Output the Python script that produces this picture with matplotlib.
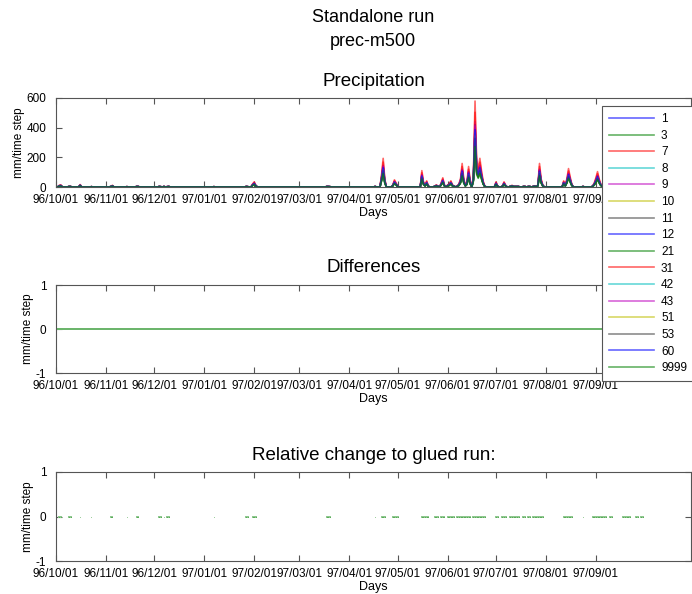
import datetime
import matplotlib
matplotlib.use('Agg')
import matplotlib.pyplot as plt
import numpy as np

# station ids shown in the legend
stations = ['1', '3', '7', '8', '9', '10', '11', '12', '21', '31', '42', '43', '51', '53', '60', '9999']
# relative size of each station's precipitation compared to the base series
station_scale = [0.95, 0.80, 1.38, 0.85, 1.05, 0.90, 0.75, 1.00, 0.70, 1.20, 0.88, 0.98, 0.82, 0.78, 0.92, 0.65]

start_date = datetime.date(1996, 10, 1)
n_days = 395
# wet days (index from 96/10/01) and base precipitation [mm/time step]
wet_days = [2, 3, 8, 9, 15, 22, 34, 35, 44, 50, 51, 64, 65, 67, 69, 70, 98,
            118, 119, 122, 123, 124, 168, 169, 170,
            198, 202, 203, 204, 209, 210, 211, 212,
            227, 228, 229, 230, 231, 235, 236, 237, 239, 240, 241,
            243, 244, 245, 246, 247, 249, 250, 251, 252, 253, 254, 255, 256, 257,
            259, 260, 261, 262, 263, 264, 265, 266,
            273, 274, 277, 278, 279, 282, 283, 284, 285, 286, 287, 290, 291,
            293, 294, 296, 297, 298, 299, 300, 301, 302,
            315, 316, 317, 318, 319, 320, 327,
            333, 334, 335, 336, 337, 338, 339, 340, 341, 344, 345,
            352, 353, 354, 355, 356, 360, 361, 363, 364, 394]
base_prec = [8, 10, 3, 3, 12, 2, 3, 8, 2, 3, 3, 3, 2, 3, 2, 3, 2,
             3, 2, 15, 25, 8, 3, 3, 2,
             3, 60, 140, 40, 10, 35, 20, 3,
             80, 25, 10, 30, 5, 5, 10, 5, 20, 45, 10,
             10, 15, 30, 10, 5, 5, 15, 40, 115, 40, 10, 25, 100, 30,
             60, 420, 130, 90, 140, 80, 30, 5,
             25, 5, 5, 25, 8, 5, 8, 3, 3, 3, 3, 3, 3,
             3, 3, 3, 5, 3, 10, 115, 40, 10,
             30, 10, 40, 90, 50, 15, 3,
             5, 20, 45, 75, 40, 15, 5, 8, 3, 3, 3,
             5, 15, 10, 5, 3, 5, 3, 3, 3, 3]

month_ticks = ['96/10/01', '96/11/01', '96/12/01', '97/01/01', '97/02/01', '97/03/01',
               '97/04/01', '97/05/01', '97/06/01', '97/07/01', '97/08/01', '97/09/01']

# MATLAB default colour order
color_order = [(0, 0, 1), (0, 0.5, 0), (1, 0, 0), (0, 0.75, 0.75),
               (0.75, 0, 0.75), (0.75, 0.75, 0), (0.25, 0.25, 0.25)]

days = np.array([start_date + datetime.timedelta(days=i) for i in range(n_days)])
base = np.zeros(n_days)
base[wet_days] = base_prec

plt.rcParams['font.family'] = ['Liberation Sans', 'DejaVu Sans']
plt.rcParams['axes.unicode_minus'] = False
fig = plt.figure(figsize=(6.92, 5.94), dpi=100)
left, width = 56 / 692., 635 / 692.
ax_prec = fig.add_axes([left, 1 - 187 / 594., width, 89 / 594.])
ax_diff = fig.add_axes([left, 1 - 373 / 594., width, 88 / 594.])
ax_rel = fig.add_axes([left, 1 - 561 / 594., width, 89 / 594.])

fig.text(373 / 692., 1 - 18 / 594., 'Standalone run', ha='center', va='center', fontsize=13)
fig.text(373 / 692., 1 - 41 / 594., 'prec-m500', ha='center', va='center', fontsize=13)

lines = []
n_st = len(stations)
for i, st in enumerate(stations):
    col = color_order[i % len(color_order)]
    prec = base * station_scale[i]
    l, = ax_prec.plot(days, prec, color=col, linewidth=1.2, alpha=0.6, label=st)
    lines.append(l)
    diff = np.zeros(n_days)
    rel = np.where(prec > 0, diff / np.where(prec > 0, prec, 1), np.nan)
    # every station overlaps at zero, only the last one drawn stays visible
    if i == n_st - 1:
        ax_diff.plot(days, diff, color=col, linewidth=1.1, alpha=0.75)
        ax_rel.plot(days, rel, color=col, linewidth=1.4, alpha=0.45,
                    marker='.', markersize=1.5, markeredgewidth=0)
    else:
        ax_diff.plot(days, diff, color='white', linewidth=1.1)
        ax_rel.plot(days, rel, color='white', linewidth=1.4)

ax_prec.set_ylim(0, 600)
ax_prec.set_yticks([0, 200, 400, 600])
ax_prec.set_title('Precipitation', fontsize=13.5, pad=9)
ax_diff.set_ylim(-1, 1)
ax_diff.set_yticks([-1, 0, 1])
ax_diff.set_title('Differences', fontsize=13.5, pad=9)
ax_rel.set_ylim(-1, 1)
ax_rel.set_yticks([-1, 0, 1])
ax_rel.set_title('Relative change to glued run:', fontsize=13.5, pad=9)

tick_dates = [datetime.datetime.strptime(t, '%y/%m/%d') for t in month_ticks]
for ax in [ax_prec, ax_diff, ax_rel]:
    ax.set_xlim(days[0], days[0] + datetime.timedelta(days=394))
    ax.set_xticks(tick_dates)
    ax.set_xticklabels(month_ticks)
    ax.set_xlabel('Days', fontsize=9, labelpad=1)
    ax.set_ylabel('mm/time step', fontsize=8.5, labelpad=1)
    ax.tick_params(direction='in', length=4, width=0.8, top=True, right=True,
                   labelsize=8.5, color='#555555')
    ax.tick_params(axis='x', pad=5)
    ax.tick_params(axis='y', pad=7)
    for sp in ax.spines.values():
        sp.set_color('#555555')
        sp.set_linewidth(0.8)

leg = fig.legend(handles=lines, loc='upper left', bbox_to_anchor=(602 / 692., 1 - 106 / 594.),
                 fontsize=8.5, handlelength=3.8, handletextpad=0.6, labelspacing=0.39,
                 borderpad=0.6, borderaxespad=0, fancybox=False, framealpha=1,
                 edgecolor='#555555')
leg.get_frame().set_linewidth(0.8)

plt.savefig('out.png', dpi=100)
